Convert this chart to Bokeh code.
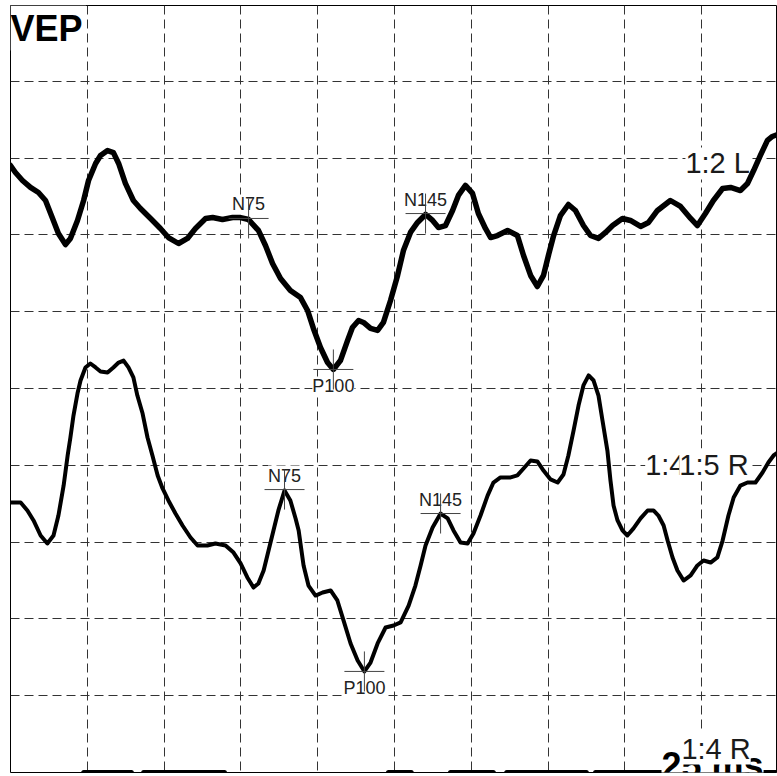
from bokeh.plotting import figure
from bokeh.models import Range1d, FixedTicker, Label, BoxAnnotation
from bokeh.core.properties import value
from bokeh.embed import file_html
from bokeh.resources import INLINE

# ---- data (time in ms, amplitude in uV, positive plotted downward) ----
t1_ms = [0, 1.6, 3.9, 6.5, 9.1, 11.4, 13.7, 15.6, 17.9, 19.5,
         21.8, 23.8, 25.4, 27.7, 29.3, 31.6, 33.5, 35.2, 37.4, 40.0,
         42.3, 45.6, 48.8, 51.4, 54.7, 57.6, 60.2, 63.5, 65.8, 69.0,
         72.3, 74.9, 77.5, 80.7, 83.0, 85.3, 87.9, 91.1, 94.4, 96.7,
         98.6, 100.9, 103.2, 105.1, 107.4, 109.7, 111.3, 113.3, 114.9, 117.2,
         119.5, 121.4, 123.7, 126.0, 127.9, 130.2, 132.5, 135.1, 137.4, 139.3,
         141.6, 143.9, 145.8, 148.1, 150.4, 152.3, 154.6, 156.3, 158.5, 161.8,
         165.0, 167.0, 169.3, 171.5, 173.5, 175.1, 176.8, 179.0, 181.6, 183.9,
         186.5, 188.8, 191.4, 193.7, 196.0, 199.2, 201.8, 205.1, 207.7, 210.6,
         214.8, 218.1, 221.4, 223.6, 226.2, 228.8, 231.8, 234.4, 237.6, 239.9,
         241.9, 244.1, 246.4, 248.0, 249.7]
t1_uv = [10.48, 10.94, 11.46, 11.91, 12.24, 12.76, 13.93, 14.91, 15.63, 15.23,
         14.06, 12.76, 11.46, 10.35, 9.83, 9.51, 9.64, 10.35, 11.65, 12.76,
         13.28, 13.93, 14.58, 15.17, 15.56, 15.23, 14.58, 13.93, 13.87, 14.00,
         13.87, 13.87, 14.00, 14.71, 15.69, 16.86, 17.84, 18.62, 19.08, 19.92,
         21.09, 22.33, 23.31, 23.76, 23.18, 21.88, 21.03, 20.57, 20.70, 21.09,
         21.22, 20.70, 19.27, 17.64, 16.02, 14.84, 14.19, 13.67, 14.06, 14.52,
         14.39, 13.41, 12.43, 11.78, 12.30, 13.61, 14.58, 15.17, 15.04, 14.71,
         15.04, 16.34, 17.64, 18.36, 17.64, 16.34, 15.04, 13.74, 13.02, 13.41,
         14.39, 15.04, 15.23, 14.84, 14.39, 13.93, 14.06, 14.45, 14.19, 13.41,
         12.76, 13.15, 13.93, 14.39, 13.61, 12.76, 11.98, 11.91, 12.11, 11.65,
         10.81, 9.83, 8.85, 8.59, 8.46]

t2_ms = [0, 3.3, 5.5, 7.5, 9.8, 12.0, 14.0, 15.6, 17.3, 18.6,
         19.5, 20.5, 21.8, 22.8, 24.4, 26.0, 27.7, 29.3, 31.6, 33.5,
         35.2, 36.8, 38.4, 40.0, 41.3, 43.0, 44.6, 46.2, 47.9, 49.5,
         51.4, 53.7, 56.0, 58.6, 60.9, 64.1, 66.7, 70.0, 72.6, 74.9,
         77.1, 79.1, 80.7, 82.4, 84.0, 85.6, 87.2, 89.2, 91.1, 92.8,
         93.8, 95.4, 97.0, 99.3, 101.6, 104.2, 106.4, 108.4, 110.7, 113.0,
         115.2, 117.2, 119.5, 122.1, 124.7, 127.0, 129.6, 131.8, 133.5, 135.1,
         137.4, 140.0, 142.3, 144.2, 146.5, 148.8, 150.7, 153.0, 155.3, 157.2,
         159.5, 162.8, 165.0, 167.0, 169.3, 171.5, 173.5, 175.8, 178.1, 180.0,
         181.6, 183.3, 184.9, 186.5, 188.2, 189.8, 191.4, 192.7, 194.3, 195.3,
         196.3, 197.6, 199.2, 200.8, 202.8, 205.1, 207.4, 209.3, 210.9, 212.6,
         213.9, 215.5, 217.1, 219.1, 221.4, 223.6, 225.6, 227.9, 230.1, 231.8,
         233.7, 235.4, 237.6, 239.9, 242.5, 244.8, 246.7, 248.4, 249.7]
t2_uv = [32.42, 32.42, 32.94, 33.59, 34.57, 35.09, 34.57, 33.27, 31.31, 29.36,
         28.19, 26.76, 25.33, 24.48, 23.63, 23.37, 23.63, 23.89, 23.96, 23.63,
         23.31, 23.18, 23.63, 24.28, 25.46, 26.63, 28.19, 29.36, 30.66, 31.51,
         32.29, 33.14, 33.92, 34.70, 35.22, 35.22, 35.09, 35.22, 35.68, 36.39,
         37.30, 37.96, 37.70, 36.85, 35.55, 34.24, 32.94, 31.64, 32.29, 33.46,
         34.24, 36.52, 37.83, 38.48, 38.28, 38.15, 38.80, 40.10, 41.60, 42.71,
         43.42, 42.84, 41.60, 40.56, 40.43, 40.23, 39.13, 37.83, 36.52, 35.22,
         34.05, 33.14, 33.46, 34.24, 35.03, 35.09, 34.44, 33.27, 31.97, 31.12,
         30.79, 30.79, 30.66, 30.21, 29.69, 29.75, 30.34, 30.92, 31.12, 30.60,
         29.36, 27.73, 26.11, 24.80, 24.15, 24.48, 25.46, 27.08, 29.04, 30.99,
         32.62, 33.59, 34.24, 34.57, 34.11, 33.46, 32.94, 32.94, 33.27, 33.92,
         34.90, 36.00, 36.85, 37.50, 37.17, 36.52, 36.20, 36.33, 36.00, 34.90,
         33.27, 32.10, 31.32, 31.12, 31.12, 30.47, 29.82, 29.36, 29.17]

t3_ms = [0, 18.0, 22.6, 23.8, 39.4, 40.5, 42.2, 43.3, 69.7, 70.8,
         80.0, 95.0, 110.0, 121.8, 123.0, 130.5, 131.6, 136.0, 142.0, 143.2,
         157.2, 158.3, 160.4, 161.5, 187.5, 188.5, 189.4, 190.4, 211.6, 230.0, 250.0]
t3_uv = [53.5, 52.2, 50.8, 50.0, 50.0, 50.9, 50.9, 50.0, 50.0, 50.9,
         53.0, 55.0, 53.5, 50.8, 50.0, 50.0, 50.9, 51.8, 50.9, 50.0,
         50.0, 50.8, 50.8, 50.0, 50.0, 50.8, 50.8, 50.0, 50.0, 50.0, 50.0]

# peak markers
peak_names = ["N75", "P100", "N145"]
t1_peak_ms = [77.5, 105.1, 135.1]
t1_peak_uv = [13.93, 23.76, 13.61]
t2_peak_ms = [89.2, 115.2, 140.0]
t2_peak_uv = [31.58, 43.42, 33.14]

grid_ms = [25, 50, 75, 100, 125, 150, 175, 200, 225]
grid_uv = [5, 10, 15, 20, 25, 30, 35, 40, 45]

p = figure(width=777, height=776,
           x_range=Range1d(0, 249.67), y_range=Range1d(50, 0.065),
           output_backend="svg", toolbar_location=None,
           x_axis_location=None, y_axis_location=None)
p.min_border = 0
p.min_border_left = 10
p.min_border_right = 0
p.min_border_top = 5
p.min_border_bottom = 4
p.background_fill_color = "white"
p.border_fill_color = "white"
p.outline_line_color = "black"
p.outline_line_width = 1

p.xgrid.ticker = FixedTicker(ticks=grid_ms)
p.ygrid.ticker = FixedTicker(ticks=grid_uv)
for g in (p.xgrid, p.ygrid):
    g.grid_line_color = "#333333"
    g.grid_line_dash = "9 5"
    g.grid_line_width = 1

FONT = "Liberation Sans"

# trace name labels (white background, behind traces)
for txt, x, y in [("1:2 L", 219.7, 10.35), ("1:4", 206.6, 29.95), ("1:5 R", 217.7, 29.95)]:
    lab = Label(x=x, y=y, text=txt, text_font=FONT, text_font_size="29px",
                text_color="#1a1a1a", text_baseline="alphabetic",
                background_fill_color="white", background_fill_alpha=1.0,
                level="underlay")
    p.add_layout(lab)

# peak labels
def peak_labels(xs, ys):
    n_idx = [0, 2]
    p.text(x=[xs[i] for i in n_idx], y=[ys[i] for i in n_idx],
           text=[peak_names[i] for i in n_idx],
           text_align="center", text_baseline="alphabetic", y_offset=-14,
           text_font=value(FONT), text_font_size="18px", text_color="#222222",
           background_fill_color="white")
    p.text(x=[xs[1]], y=[ys[1]], text=[peak_names[1]],
           text_align="center", text_baseline="alphabetic", y_offset=17,
           text_font=value(FONT), text_font_size="18px", text_color="#222222",
           background_fill_color="white")

peak_labels(t1_peak_ms, t1_peak_uv)
peak_labels(t2_peak_ms, t2_peak_uv)

p.line(t1_ms, t1_uv, line_color="black", line_width=5.5, line_join="round", line_cap="round")
p.line(t2_ms, t2_uv, line_color="black", line_width=4, line_join="round", line_cap="round")
p.line(t3_ms, t3_uv, line_color="black", line_width=5, line_join="round", line_cap="round")

p.scatter(t1_peak_ms, t1_peak_uv, marker="cross", size=40, line_color="#444444", line_width=1)
p.scatter(t2_peak_ms, t2_peak_uv, marker="cross", size=40, line_color="#444444", line_width=1)

# title corner
corner = BoxAnnotation(right=24.6, bottom=3.0, fill_color="white", fill_alpha=1.0,
                       line_color=None, level="overlay")
p.add_layout(corner)
p.add_layout(Label(x=0, y=744, x_units="screen", y_units="screen", text="VEP",
                   text_font=FONT, text_font_size="36px", text_font_style="bold",
                   text_color="black", text_baseline="alphabetic", level="overlay"))

# scale label and bottom trace label
p.add_layout(Label(x=651, y=7, x_units="screen", y_units="screen", text="25 ms",
                   text_font=FONT, text_font_size="36px", text_font_style="bold",
                   text_color="black", text_baseline="alphabetic",
                   background_fill_color="white", background_fill_alpha=1.0,
                   level="overlay"))
p.add_layout(Label(x=218.4, y=48.44, text="1:4 R", text_font=FONT, text_font_size="29px",
                   text_color="#1a1a1a", text_baseline="alphabetic",
                   background_fill_color="white", background_fill_alpha=1.0,
                   level="overlay"))

open("out.html", "w").write(file_html(p, INLINE))
